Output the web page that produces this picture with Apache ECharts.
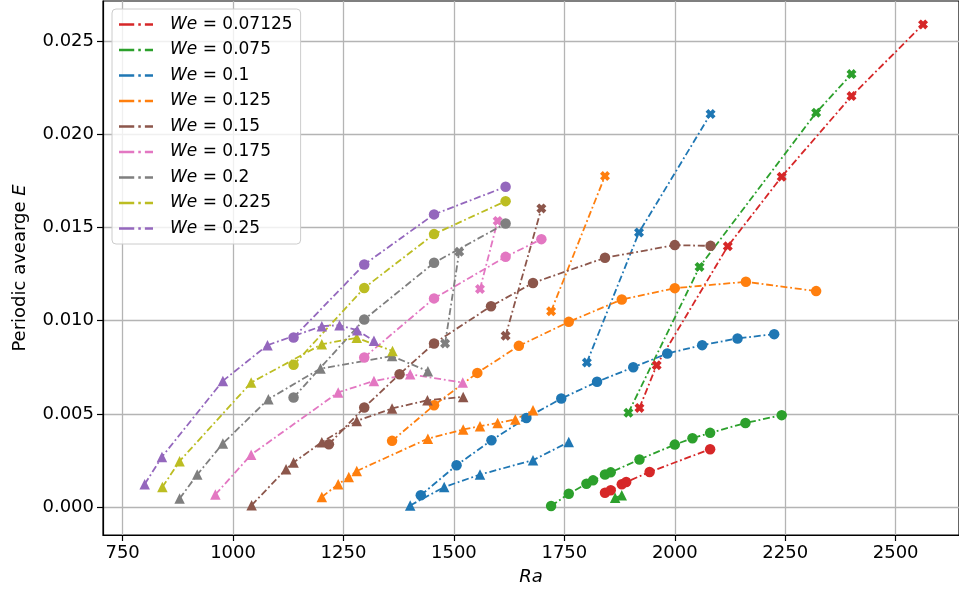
<!DOCTYPE html>
<html>
<head>
<meta charset="utf-8">
<title>Periodic average E vs Ra</title>
<script src="https://cdn.jsdelivr.net/npm/echarts@6/dist/echarts.min.js"></script>
<style>
  html, body { margin: 0; padding: 0; background: #fff; }
  #chart { width: 959px; height: 597px; }
</style>
</head>
<body>
<div id="chart"></div>
<script>
// Axis ticks
const RA_TICKS = [750, 1000, 1250, 1500, 1750, 2000, 2250, 2500];
const E_TICKS = [0, 0.005, 0.010, 0.015, 0.020, 0.025];

// Weber numbers (legend order)
const WE_VALUES = ['0.07125', '0.075', '0.1', '0.125', '0.15', '0.175', '0.2', '0.225', '0.25'];

// We = 0.07125
const circles_07125 = [[1842,0.00076],[1855,0.00090],[1880,0.00122],[1890,0.00134],[1943,0.00188],[2080,0.00310]];
const triangles_07125 = [];
const crosses_07125 = [[1920,0.00532],[1959,0.00761],[2120,0.01400],[2242,0.01773],[2400,0.02206],[2562,0.02591]];

// We = 0.075
const circles_075 = [[1720,0.00005],[1760,0.00071],[1800,0.00125],[1815,0.00143],[1842,0.00174],[1855,0.00186],[1920,0.00255],[2000,0.00335],[2040,0.00369],[2080,0.00398],[2160,0.00451],[2242,0.00493]];
const triangles_075 = [[1865,0.00049],[1880,0.00063]];
const crosses_075 = [[1895,0.00506],[2056,0.01289],[2320,0.02117],[2400,0.02324]];

// We = 0.1
const circles_1 = [[1425,0.00063],[1506,0.00224],[1585,0.00358],[1664,0.00478],[1743,0.00582],[1824,0.00672],[1906,0.00750],[1983,0.00824],[2062,0.00869],[2142,0.00905],[2225,0.00928]];
const triangles_1 = [[1401,0.00008],[1478,0.00107],[1559,0.00174],[1679,0.00251],[1760,0.00349]];
const crosses_1 = [[1801,0.00776],[1919,0.01474],[2081,0.02110]];

// We = 0.125
const circles_125 = [[1360,0.00355],[1455,0.00546],[1553,0.00720],[1647,0.00865],[1760,0.00994],[1880,0.01114],[2000,0.01175],[2161,0.01209],[2320,0.01159]];
const triangles_125 = [[1201,0.00054],[1238,0.00122],[1262,0.00161],[1280,0.00193],[1441,0.00367],[1521,0.00416],[1559,0.00434],[1599,0.00451],[1639,0.00470],[1679,0.00519]];
const crosses_125 = [[1720,0.01051],[1842,0.01777]];

// We = 0.15
const circles_15 = [[1217,0.00337],[1297,0.00534],[1377,0.00713],[1455,0.00878],[1584,0.01078],[1679,0.01203],[1842,0.01338],[2000,0.01406],[2081,0.01402]];
const triangles_15 = [[1042,0.00009],[1120,0.00203],[1137,0.00239],[1201,0.00348],[1280,0.00462],[1360,0.00529],[1440,0.00573],[1521,0.00591]];
const crosses_15 = [[1617,0.00919],[1698,0.01603]];

// We = 0.175
const circles_175 = [[1297,0.00803],[1455,0.01120],[1617,0.01343],[1698,0.01438]];
const triangles_175 = [[960,0.00067],[1041,0.00281],[1238,0.00615],[1319,0.00677],[1401,0.00712],[1520,0.00668]];
const crosses_175 = [[1559,0.01170],[1599,0.01536]];

// We = 0.2
const circles_2 = [[1137,0.00588],[1297,0.01007],[1455,0.01311],[1617,0.01522]];
const triangles_2 = [[879,0.00045],[919,0.00174],[977,0.00341],[1080,0.00579],[1198,0.00743],[1360,0.00810],[1441,0.00729]];
const crosses_2 = [[1480,0.00878],[1512,0.01370]];

// We = 0.225
const circles_225 = [[1137,0.00763],[1297,0.01176],[1455,0.01465],[1617,0.01642]];
const triangles_225 = [[840,0.00107],[879,0.00246],[1041,0.00668],[1201,0.00874],[1280,0.00908],[1361,0.00838]];
const crosses_225 = [];

// We = 0.25
const circles_25 = [[1137,0.00910],[1297,0.01302],[1455,0.01571],[1617,0.01719]];
const triangles_25 = [[800,0.00122],[839,0.00269],[977,0.00677],[1078,0.00869],[1201,0.00971],[1241,0.00976],[1281,0.00949],[1319,0.00892]];
const crosses_25 = [];

// tab10 palette, one colour per We
const PALETTE = ['#d62728', '#2ca02c', '#1f77b4', '#ff7f0e', '#8c564b', '#e377c2', '#7f7f7f', '#bcbd22', '#9467bd'];

const GROUPS = [
  [circles_07125, triangles_07125, crosses_07125],
  [circles_075, triangles_075, crosses_075],
  [circles_1, triangles_1, crosses_1],
  [circles_125, triangles_125, crosses_125],
  [circles_15, triangles_15, crosses_15],
  [circles_175, triangles_175, crosses_175],
  [circles_2, triangles_2, crosses_2],
  [circles_225, triangles_225, crosses_225],
  [circles_25, triangles_25, crosses_25]
];

const FONT = 'DejaVu Sans';
// filled "X" marker with thick arms
const X_MARKER = 'path://M0.28,0 L0.5,0.22 L0.72,0 L1,0.28 L0.78,0.5 L1,0.72 L0.72,1 L0.5,0.78 L0.28,1 L0,0.72 L0.22,0.5 L0,0.28 Z';
const DASHDOT_ICON = 'path://M0,0 h15 v2.3 h-15 Z M19,0 h2.5 v2.3 h-2.5 Z M25.5,0 h8 v2.3 h-8 Z';
const MARKERS = [
  { symbol: 'circle', size: 10.5 },
  { symbol: 'triangle', size: 10.5 },
  { symbol: X_MARKER, size: 10 }
];

const seriesName = v => 'We = ' + v;

const series = [];
GROUPS.forEach((group, gi) => {
  const color = PALETTE[gi];
  group.forEach((data, mi) => {
    if (!data.length) return;
    series.push({
      type: 'line',
      name: seriesName(WE_VALUES[gi]),
      data: data,
      symbol: MARKERS[mi].symbol,
      symbolSize: MARKERS[mi].size,
      showSymbol: true,
      itemStyle: { color: color, borderWidth: 0 },
      lineStyle: { color: color, width: 1.8, type: [7, 2.8, 1.8, 2.8] },
      emphasis: { disabled: true },
      animation: false
    });
  });
});

const chart = echarts.init(document.getElementById('chart'), null, { renderer: 'canvas' });
chart.setOption({
  backgroundColor: '#fff',
  animation: false,
  grid: {
    left: 103, right: -4, top: 1, bottom: 62,
    show: true, borderColor: '#000', borderWidth: 1.2, backgroundColor: 'transparent'
  },
  legend: {
    orient: 'vertical',
    left: 112, top: 9,
    padding: [7, 8, 7, 7],
    itemWidth: 34, itemHeight: 14, itemGap: 8.5,
    backgroundColor: 'rgba(255,255,255,0.8)',
    borderColor: '#cccccc', borderWidth: 1, borderRadius: 4,
    itemStyle: { borderWidth: 0 },
    data: WE_VALUES.map(v => ({ name: seriesName(v), icon: DASHDOT_ICON })),
    formatter: name => '{s| }' + name.replace('We', '{i|We}'),
    textStyle: {
      fontFamily: FONT, fontSize: 17, color: '#000',
      rich: {
        s: { width: 12, fontSize: 17, fontFamily: FONT },
        i: { fontStyle: 'italic', fontSize: 17, fontFamily: FONT, color: '#000' }
      }
    }
  },
  xAxis: {
    type: 'value',
    min: 705.6, max: 2643.4,
    name: 'Ra', nameLocation: 'middle', nameGap: 33,
    nameTextStyle: { fontFamily: FONT, fontSize: 18, fontStyle: 'italic', color: '#000' },
    axisLine: { show: true, onZero: false, lineStyle: { color: '#000', width: 1.2 } },
    axisTick: { show: true, length: 6, customValues: RA_TICKS, lineStyle: { color: '#000', width: 1.2 } },
    axisLabel: {
      customValues: RA_TICKS, margin: 9, fontFamily: FONT, fontSize: 18, color: '#000',
      formatter: v => String(Math.round(v))
    },
    splitLine: { show: true, lineStyle: { color: '#b4b4b4', width: 1.3 } }
  },
  yAxis: {
    type: 'value',
    min: -0.001504, max: 0.027166,
    name: 'Periodic avearge {i|E}', nameLocation: 'middle', nameGap: 74,
    nameTextStyle: {
      fontFamily: FONT, fontSize: 18, color: '#000',
      rich: { i: { fontStyle: 'italic', fontFamily: FONT, fontSize: 18, color: '#000' } }
    },
    axisLine: { show: true, onZero: false, lineStyle: { color: '#000', width: 1.2 } },
    axisTick: { show: true, length: 6, customValues: E_TICKS, lineStyle: { color: '#000', width: 1.2 } },
    axisLabel: {
      customValues: E_TICKS, margin: 9, fontFamily: FONT, fontSize: 18, color: '#000',
      formatter: v => Number(v).toFixed(3)
    },
    splitLine: { show: true, lineStyle: { color: '#b4b4b4', width: 1.3 } }
  },
  series: series
});
</script>
</body>
</html>
